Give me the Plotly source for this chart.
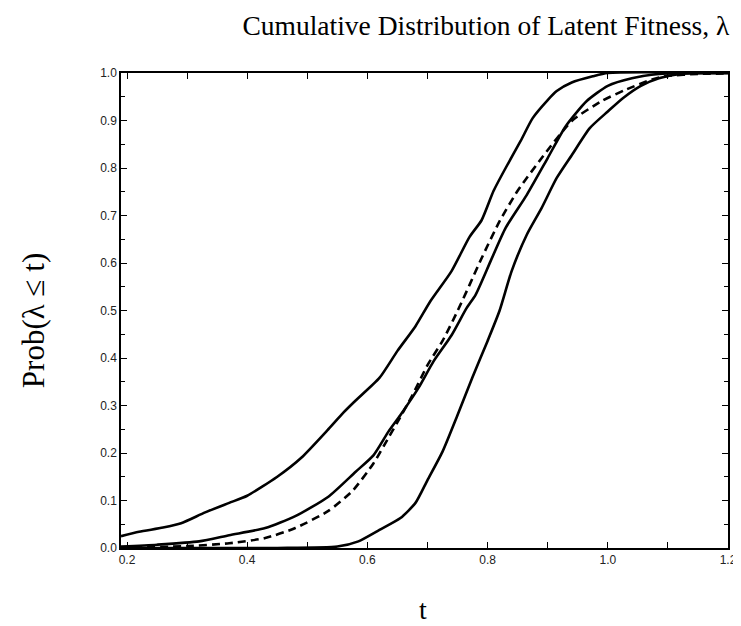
import plotly.graph_objects as go

# Curve A (leftmost solid)
t_a = [0.19, 0.22, 0.26, 0.29, 0.33, 0.37, 0.40, 0.45, 0.49, 0.535, 0.56, 0.58, 0.62, 0.65, 0.68,
       0.705, 0.74, 0.77, 0.79, 0.81, 0.83, 0.855, 0.875, 0.90, 0.915, 0.94, 0.975, 1.0, 1.2]
p_a = [0.025, 0.034, 0.043, 0.052, 0.075, 0.095, 0.11, 0.15, 0.19, 0.25, 0.285, 0.31, 0.358, 0.415, 0.467,
       0.52, 0.583, 0.655, 0.69, 0.752, 0.80, 0.857, 0.905, 0.943, 0.962, 0.98, 0.993, 1.0, 1.0]

# Curve C (middle solid)
t_c = [0.19, 0.25, 0.32, 0.37, 0.43, 0.48, 0.535, 0.58, 0.61, 0.635, 0.655, 0.685, 0.71, 0.74, 0.765,
       0.78, 0.805, 0.83, 0.865, 0.90, 0.93, 0.965, 1.0, 1.04, 1.085, 1.125, 1.2]
p_c = [0.003, 0.007, 0.014, 0.027, 0.042, 0.067, 0.108, 0.16, 0.195, 0.245, 0.28, 0.337, 0.393, 0.448, 0.505,
       0.533, 0.604, 0.674, 0.743, 0.821, 0.888, 0.941, 0.973, 0.989, 0.998, 1.0, 1.0]

# Dashed curve
t_b = [0.19, 0.30, 0.37, 0.43, 0.48, 0.535, 0.575, 0.61, 0.635, 0.65, 0.675, 0.70, 0.725, 0.75, 0.77,
       0.79, 0.82, 0.85, 0.89, 0.94, 0.99, 1.03, 1.075, 1.10, 1.15, 1.2]
p_b = [0.0, 0.004, 0.01, 0.021, 0.042, 0.078, 0.12, 0.178, 0.232, 0.265, 0.322, 0.385, 0.436, 0.499, 0.554,
       0.61, 0.688, 0.752, 0.821, 0.899, 0.941, 0.965, 0.987, 0.994, 0.998, 0.999]

# Curve D (rightmost solid)
t_d = [0.19, 0.45, 0.55, 0.585, 0.62, 0.655, 0.68, 0.70, 0.725, 0.75, 0.775, 0.80, 0.82, 0.84, 0.865,
       0.89, 0.915, 0.94, 0.97, 1.0, 1.025, 1.055, 1.085, 1.12, 1.2]
p_d = [0.0, 0.0, 0.003, 0.014, 0.038, 0.063, 0.095, 0.143, 0.203, 0.28, 0.36, 0.436, 0.50, 0.583, 0.659,
       0.716, 0.779, 0.827, 0.884, 0.919, 0.947, 0.973, 0.989, 0.998, 1.0]

fig = go.Figure()
solid = dict(color="black", width=2.6, shape="spline", smoothing=0.6)
fig.add_trace(go.Scatter(x=t_a, y=p_a, mode="lines", line=solid))
fig.add_trace(go.Scatter(x=t_c, y=p_c, mode="lines", line=solid))
fig.add_trace(go.Scatter(x=t_d, y=p_d, mode="lines", line=solid))
fig.add_trace(go.Scatter(x=t_b, y=p_b, mode="lines",
                         line=dict(color="black", width=2.6, dash="8px,5px", shape="spline", smoothing=0.6)))

tickfont = dict(family="Liberation Sans, Arial", size=12, color="#222")
axis_common = dict(showgrid=False, zeroline=False, showline=True, linecolor="black", linewidth=1.5,
                   mirror="ticks", ticks="inside", ticklen=6, tickcolor="black", tickwidth=1,
                   tickfont=tickfont)

fig.update_xaxes(range=[0.19, 1.2], tick0=0.2, dtick=0.2, tickformat=".1f",
                 minor=dict(dtick=0.1, tick0=0.2, ticks="inside", ticklen=6, tickcolor="black"),
                 **axis_common)
fig.update_yaxes(range=[0, 1.0], tick0=0, dtick=0.1, tickformat=".1f",
                 minor=dict(dtick=0.05, ticks="inside", ticklen=4, tickcolor="black"),
                 **axis_common)

serif = "Liberation Serif, Times New Roman, serif"
fig.update_layout(
    width=741, height=626,
    margin=dict(l=113, r=12, t=65, b=86),
    paper_bgcolor="white", plot_bgcolor="white",
    showlegend=False,
    title=dict(text="Cumulative Distribution of Latent Fitness, λ", xref="container", yref="container",
               x=0.645, xanchor="center", y=0.972, yanchor="middle",
               font=dict(family=serif, size=27.5, color="black")),
    annotations=[
        dict(text="Prob(λ ≤ t)", xref="paper", yref="paper", x=-0.143, y=0.478, textangle=-90,
             showarrow=False, xanchor="center", yanchor="middle",
             font=dict(family=serif, size=31, color="black")),
        dict(text="t", xref="paper", yref="paper", x=0.497, y=-0.13, showarrow=False,
             xanchor="center", yanchor="middle", font=dict(family=serif, size=28, color="black")),
    ],
)

fig.write_html("out.html")
